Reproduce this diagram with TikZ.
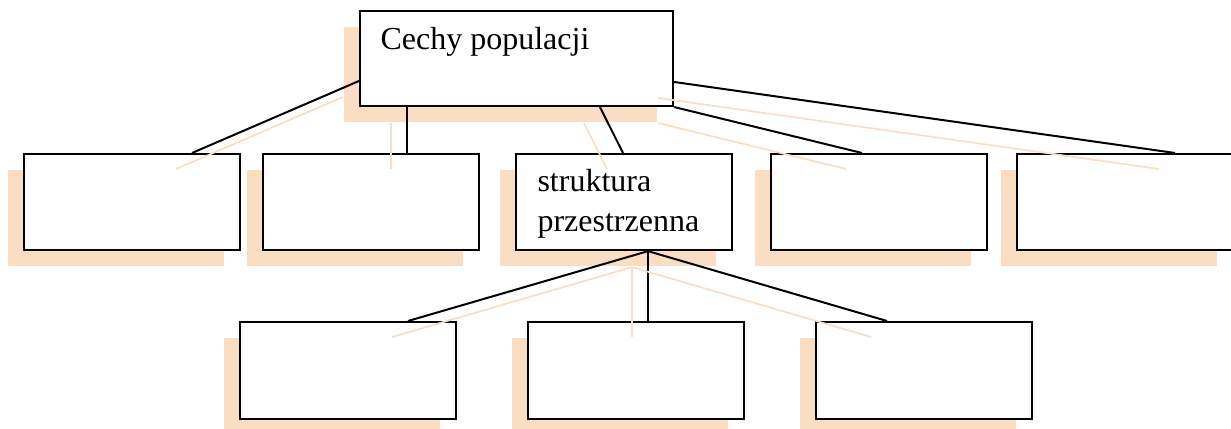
\documentclass[tikz,border=0pt]{standalone}
\usepackage{fontspec}
\setmainfont{Liberation Serif}
\usetikzlibrary{calc,shadows}
\definecolor{peach}{RGB}{250,222,196}
\tikzset{
  box/.style={draw, fill=white, line width=0.8pt, rectangle, inner sep=0pt,
    anchor=north west, minimum width=81pt, minimum height=36pt,
    general shadow={fill=peach, shadow xshift=-6pt, shadow yshift=-6pt}},
  link/.style={line width=0.75pt},
  linkshadow/.style={draw=peach, line width=0.65pt,
    transform canvas={xshift=-6pt, yshift=-6pt}},
  boxtext/.style={anchor=base west, inner sep=0pt, align=left,
    font=\fontsize{12}{15}\selectfont}
}
\begin{document}
\begin{tikzpicture}[x=0.375pt, y=-0.375pt]
  \useasboundingbox (0,0) rectangle (1231,429);
  \node[box, minimum width=117.4pt, minimum height=35.6pt] (top) at (359,10) {};
  \node[box] (b1) at (23,153)   {};
  \node[box] (b2) at (262,153)  {};
  \node[box] (b3) at (515,153)  {};
  \node[box] (b4) at (770,153)  {};
  \node[box] (b5) at (1016,153) {};
  \node[box, minimum height=36.4pt] (c1) at (239,321) {};
  \node[box, minimum height=36.4pt] (c2) at (527,321) {};
  \node[box, minimum height=36.4pt] (c3) at (815,321) {};
  \node[boxtext] (cechy) at ($(top.north west)+(21,40)$) {Cechy populacji};
  \node[boxtext] (struktura) at ($(b3.north west)+(22,79)$) {struktura\\przestrzenna};

  \coordinate (t1) at ($(top.north west)+(0,71)$);
  \coordinate (t2) at ($(top.south west)+(48,0)$);
  \coordinate (t3) at ($(top.south west)+(241,0)$);
  \coordinate (t4) at (top.south east);
  \coordinate (t5) at ($(top.north east)+(0,72)$);
  \coordinate (s1) at ($(b1.north west)+(169,0)$);
  \coordinate (s2) at ($(b2.north west)+(145,0)$);
  \coordinate (s3) at ($(b3.north west)+(108,0)$);
  \coordinate (s4) at ($(b4.north west)+(92,0)$);
  \coordinate (s5) at ($(b5.north west)+(159,0)$);
  \coordinate (m)  at ($(b3.south west)+(133,0)$);
  \coordinate (d1) at ($(c1.north west)+(169,0)$);
  \coordinate (d2) at ($(c2.north west)+(121,0)$);
  \coordinate (d3) at ($(c3.north west)+(72,0)$);

  \foreach \a/\b in {t1/s1, t2/s2, t3/s3, t4/s4, t5/s5, m/d1, m/d2, m/d3}
    \draw[link] (\a) -- (\b);
  \foreach \a/\b in {t1/s1, t2/s2, t3/s3, t4/s4, t5/s5, m/d1, m/d2, m/d3}
    \draw[linkshadow] (\a) -- (\b);
\end{tikzpicture}
\end{document}
